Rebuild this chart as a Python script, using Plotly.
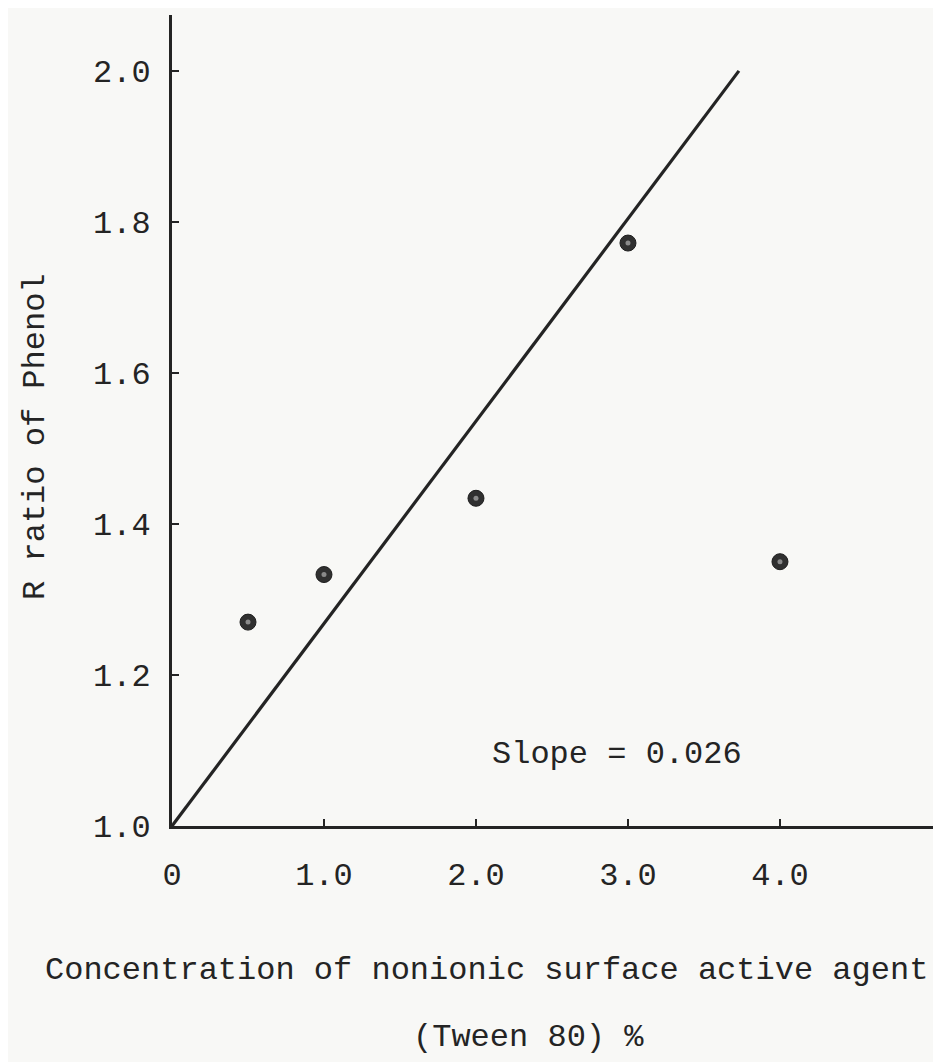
import plotly.graph_objects as go

# Data
conc = [0.5, 1.0, 2.0, 3.0, 4.0]
r_ratio = [1.27, 1.333, 1.434, 1.772, 1.35]

fit_x = [0.0, 3.73]
fit_y = [1.0, 2.0]

x_tickvals = [0, 1, 2, 3, 4]
x_ticktext = ["0", "1.0", "2.0", "3.0", "4.0"]
y_tickvals = [1.0, 1.2, 1.4, 1.6, 1.8, 2.0]
y_ticktext = ["1.0", "1.2", "1.4", "1.6", "1.8", "2.0"]

FONT = "Liberation Mono, Courier New, monospace"
INK = "#242424"
PAPER = "#f8f8f6"

fig = go.Figure()
fig.add_trace(go.Scatter(x=fit_x, y=fit_y, mode="lines",
                         line=dict(color=INK, width=3.2), showlegend=False,
                         cliponaxis=False))
fig.add_trace(go.Scatter(x=conc, y=r_ratio, mode="markers",
                         marker=dict(symbol="circle", size=16, color="#303030",
                                     line=dict(color="#1e1e1e", width=1)),
                         showlegend=False))
fig.add_trace(go.Scatter(x=conc, y=r_ratio, mode="markers",
                         marker=dict(symbol="circle", size=5, color="#8a8a8a"),
                         showlegend=False))

fig.update_layout(
    width=933, height=1054,
    margin=dict(l=164, r=6, t=7, b=236),
    paper_bgcolor=PAPER, plot_bgcolor=PAPER,
    font=dict(family=FONT, size=32, color=INK),
    showlegend=False,
)
fig.update_xaxes(range=[0, 5.02], showgrid=False, zeroline=False,
                 showline=True, linecolor=INK, linewidth=3,
                 tickmode="array", tickvals=x_tickvals, ticktext=x_ticktext,
                 ticks="inside", ticklen=7, tickwidth=2, tickcolor=INK,
                 ticklabelstandoff=18, tickfont=dict(family=FONT, size=32, color=INK))
fig.update_yaxes(range=[1.0, 2.074], showgrid=False, zeroline=False,
                 showline=True, linecolor=INK, linewidth=3,
                 tickmode="array", tickvals=y_tickvals, ticktext=y_ticktext,
                 ticks="inside", ticklen=7, tickwidth=2, tickcolor=INK,
                 ticklabelstandoff=12, tickfont=dict(family=FONT, size=32, color=INK))

fig.add_annotation(text="R ratio of Phenol", xref="paper", yref="paper",
                   x=-0.178, y=0.48, textangle=-90, showarrow=False,
                   xanchor="center", yanchor="middle",
                   font=dict(family=FONT, size=32, color=INK))
fig.add_annotation(text="Concentration of nonionic surface active agent",
                   xref="paper", yref="paper", x=0.412, y=-0.1776,
                   showarrow=False, xanchor="center", yanchor="middle",
                   font=dict(family=FONT, size=32, color=INK))
fig.add_annotation(text="(Tween 80) %", xref="paper", yref="paper",
                   x=0.467, y=-0.261, showarrow=False,
                   xanchor="center", yanchor="middle",
                   font=dict(family=FONT, size=32, color=INK))
fig.add_annotation(text="Slope = 0.026", xref="x", yref="y",
                   x=2.93, y=1.095, showarrow=False,
                   xanchor="center", yanchor="middle",
                   font=dict(family=FONT, size=32, color=INK))

fig.write_html("out.html")
